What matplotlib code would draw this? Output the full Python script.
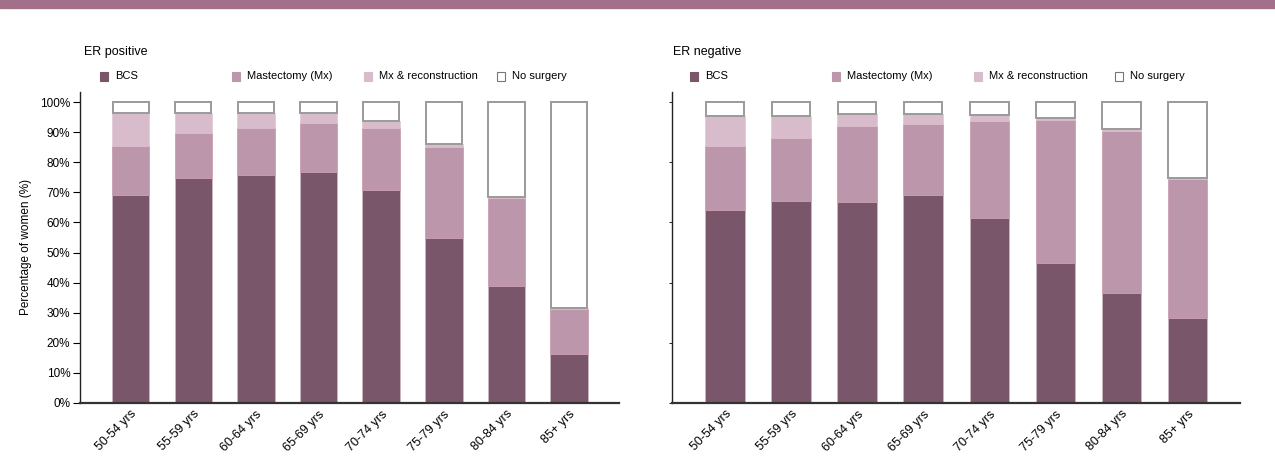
#!/usr/bin/env python3
"""Surgery type by age group, ER positive vs ER negative."""

import numpy as np
import matplotlib.pyplot as plt
from matplotlib.patches import Rectangle

# =============================================================================
# Data (% of women)
# =============================================================================
age_groups = ['50-54 yrs', '55-59 yrs', '60-64 yrs', '65-69 yrs',
              '70-74 yrs', '75-79 yrs', '80-84 yrs', '85+ yrs']
series_names = ['BCS', 'Mastectomy (Mx)', 'Mx & reconstruction', 'No surgery']

pos_bcs = [69.1, 74.9, 75.9, 76.9, 70.8, 55.0, 39.0, 16.3]
pos_mx = [16.4, 14.8, 15.6, 16.1, 20.7, 30.2, 29.1, 14.9]
pos_recon = [11.1, 6.9, 5.1, 3.6, 2.3, 0.9, 0.3, 0.2]
pos_none = [3.4, 3.4, 3.4, 3.4, 6.2, 13.9, 31.6, 68.6]

neg_bcs = [64.0, 67.1, 66.9, 69.1, 61.5, 46.5, 36.4, 28.3]
neg_mx = [21.6, 21.1, 25.1, 23.8, 32.4, 47.6, 54.2, 46.2]
neg_recon = [9.8, 7.2, 4.3, 3.4, 2.0, 0.8, 0.6, 0.2]
neg_none = [4.6, 4.6, 3.7, 3.7, 4.1, 5.1, 8.8, 25.3]

# =============================================================================
# Styling
# =============================================================================
FONT = ['Liberation Sans', 'DejaVu Sans']
plt.rcParams['font.family'] = FONT
FS = 8.5

C_BCS = '#7a566b'
C_MX = '#bc97ab'
C_RECON = '#d8bccb'
C_NONE = 'white'
EDGE_NONE = '#9a9a9a'
BAR_W = 0.6

fig = plt.figure(figsize=(12.75, 4.71), dpi=100)

# header band
fig.patches.append(Rectangle((0, 1 - 8 / 471), 1, 8 / 471,
                             transform=fig.transFigure,
                             color='#a27088', zorder=0))

ax_pos = fig.add_axes([0.0627, 0.1454, 0.4230, 0.6593])
ax_neg = fig.add_axes([0.5268, 0.1454, 0.4460, 0.6593])


def draw_panel(ax, bcs, mx, recon, none):
    x = np.arange(len(age_groups))
    bcs = np.array(bcs)
    mx = np.array(mx)
    recon = np.array(recon)
    none = np.array(none)
    ax.bar(x, bcs, BAR_W, color=C_BCS, edgecolor='#d3bcc8', linewidth=0.4)
    ax.bar(x, mx, BAR_W, bottom=bcs, color=C_MX,
           edgecolor='#c994ab', linewidth=0.5)
    ax.bar(x, recon, BAR_W, bottom=bcs + mx, color=C_RECON,
           edgecolor='#dcc3d0', linewidth=0.4)
    ax.bar(x, none, BAR_W - 0.02, bottom=bcs + mx + recon, color=C_NONE,
           edgecolor=EDGE_NONE, linewidth=1.4)

    ax.set_xlim(-0.81, len(age_groups) - 1 + 0.80)
    ax.set_ylim(0, 103.5)
    ax.set_xticks(x)
    ax.set_xticklabels(age_groups, rotation=45, ha='right',
                       rotation_mode='anchor', fontsize=FS + 0.5)
    ax.tick_params(axis='x', length=0, pad=4)
    for side in ('top', 'right'):
        ax.spines[side].set_visible(False)
    ax.spines['bottom'].set_linewidth(1.6)
    ax.spines['bottom'].set_color('#333333')
    ax.spines['left'].set_linewidth(1.0)
    ax.spines['left'].set_color('#222222')


draw_panel(ax_pos, pos_bcs, pos_mx, pos_recon, pos_none)
draw_panel(ax_neg, neg_bcs, neg_mx, neg_recon, neg_none)

ax_pos.set_yticks(np.arange(0, 101, 10))
ax_pos.set_yticklabels([f'{v}%' for v in range(0, 101, 10)], fontsize=FS)
ax_pos.tick_params(axis='y', length=5, width=0.8, pad=2)
ax_pos.set_ylabel('Percentage of women (%)', fontsize=FS, labelpad=6)

ax_neg.set_yticks(np.arange(0, 101, 20))
ax_neg.set_yticklabels([])
ax_neg.tick_params(axis='y', length=2, width=0.6)

# panel titles and legends
swatches = [(C_BCS, C_BCS), (C_MX, C_MX), (C_RECON, C_RECON),
            (C_NONE, '#777777')]


def panel_header(title, x_title, x_items):
    fig.text(x_title / 1275, 1 - 52 / 471, title, fontsize=FS + 0.5,
             va='center', ha='left')
    for (face, edge), name, xi in zip(swatches, series_names, x_items):
        fig.patches.append(Rectangle((xi / 1275, 1 - 80.5 / 471),
                                     8 / 1275, 9 / 471,
                                     transform=fig.transFigure,
                                     facecolor=face, edgecolor=edge,
                                     linewidth=0.8))
        fig.text((xi + 15) / 1275, 1 - 76 / 471, name, fontsize=FS - 0.5,
                 va='center', ha='left')


panel_header('ER positive', 84, [100, 232, 364, 497])
panel_header('ER negative', 673, [690, 832, 974, 1115])

fig.savefig('out.png', dpi=100)
